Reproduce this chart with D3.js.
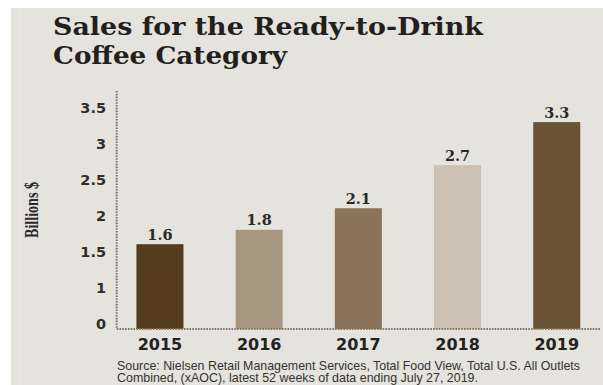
<!DOCTYPE html>
<html>
<head>
<meta charset="utf-8">
<script src="https://cdn.jsdelivr.net/npm/d3@7"></script>
<style>
  html, body { margin: 0; padding: 0; background: #ffffff; }
  svg { display: block; }
</style>
</head>
<body>
<svg id="chart" width="603" height="385"></svg>
<script>
// Ready-to-drink coffee sales, billions of dollars
const years = ["2015", "2016", "2017", "2018", "2019"];
const sales = [1.6, 1.8, 2.1, 2.7, 3.3];
const barColors = ["#553c1c", "#a79882", "#8a7358", "#cbc0b2", "#6a5335"];
const tickValues = [0, 1, 1.5, 2, 2.5, 3, 3.5];
const tickLabels = ["0", "1", "1.5", "2", "2.5", "3", "3.5"];
const titleLines = ["Sales for the Ready-to-Drink", "Coffee Category"];
const sourceLines = [
  "Source: Nielsen Retail Management Services, Total Food View, Total U.S. All Outlets",
  "Combined, (xAOC), latest 52 weeks of data ending July 27, 2019."
];

const svg = d3.select("#chart");
const W = 603, H = 385;

// Panel background
svg.append("rect").attr("x", 11).attr("y", 8).attr("width", W - 11).attr("height", H - 8)
  .attr("fill", "#e5e3de");
svg.append("line").attr("x1", 16.5).attr("x2", 16.5).attr("y1", 8).attr("y2", H)
  .attr("stroke", "#ebdcd6").attr("stroke-width", 1);

// Title
const titleSizes = [430, 234];
svg.append("g").selectAll("text").data(titleLines).join("text")
  .attr("x", 53).attr("y", (d, i) => 35 + i * 28.5)
  .attr("font-family", "DejaVu Serif").attr("font-weight", "bold")
  .attr("font-size", 24).attr("fill", "#231f1c")
  .attr("textLength", (d, i) => titleSizes[i]).attr("lengthAdjust", "spacingAndGlyphs")
  .text(d => d);

// Scales: broken value axis, zero sits just under the 1.0 mark
const axisX = 116.7, axisRight = 600, baseY = 329;
const x = d3.scaleBand().domain(years).range([axisX, axisRight])
  .paddingInner(0.526).paddingOuter(0.199);
const y = d3.scaleLinear().domain([0, 1, 3.5]).range([323.3, 287.3, 107.7]);

// Bars
svg.append("g").selectAll("rect").data(sales).join("rect")
  .attr("x", (d, i) => x(years[i]))
  .attr("width", x.bandwidth())
  .attr("y", d => y(d))
  .attr("height", d => baseY - y(d))
  .attr("fill", (d, i) => barColors[i]);

// Value labels
svg.append("g").selectAll("text").data(sales).join("text")
  .attr("x", (d, i) => x(years[i]) + x.bandwidth() / 2)
  .attr("y", d => y(d) - 4.5)
  .attr("text-anchor", "middle")
  .attr("font-family", "DejaVu Serif").attr("font-weight", "bold")
  .attr("font-size", 14.5).attr("fill", "#2b2a28")
  .text(d => d.toFixed(1));

// Dotted axis lines
const dotted = { stroke: "#86765f", width: 2, dash: "1.6,1.2" };
svg.append("line").attr("x1", axisX).attr("x2", axisX).attr("y1", 91).attr("y2", baseY)
  .attr("stroke", dotted.stroke).attr("stroke-width", dotted.width)
  .attr("stroke-dasharray", dotted.dash);
svg.append("line").attr("x1", axisX).attr("x2", axisRight).attr("y1", baseY).attr("y2", baseY)
  .attr("stroke", dotted.stroke).attr("stroke-width", dotted.width)
  .attr("stroke-dasharray", dotted.dash);

// Y tick labels
const yAxis = d3.axisLeft(y).tickValues(tickValues).tickSize(0).tickPadding(0)
  .tickFormat((d, i) => tickLabels[i]);
const gy = svg.append("g").attr("transform", "translate(106,0)").call(yAxis);
gy.select(".domain").remove();
gy.selectAll("text")
  .attr("font-family", "DejaVu Sans").attr("font-weight", "bold")
  .attr("font-size", 14.5).attr("fill", "#2e2d2b").attr("dy", "0.36em");

// X category labels
const xAxis = d3.axisBottom(x).tickSize(0).tickPadding(0);
const gx = svg.append("g").attr("transform", "translate(0,350)").call(xAxis);
gx.select(".domain").remove();
gx.selectAll("text")
  .attr("font-family", "DejaVu Sans").attr("font-weight", "bold")
  .attr("font-size", 16).attr("fill", "#232220").attr("dy", 0);

// Y axis title
svg.append("text")
  .attr("transform", "translate(38,210) rotate(-90)")
  .attr("text-anchor", "middle")
  .attr("font-family", "Liberation Serif").attr("font-weight", "bold")
  .attr("font-size", 18).attr("fill", "#2a2927")
  .attr("textLength", 56).attr("lengthAdjust", "spacingAndGlyphs")
  .text("Billions $");

// Source note
const sourceWidths = [463, 361];
svg.append("g").selectAll("text").data(sourceLines).join("text")
  .attr("x", 117).attr("y", (d, i) => 369.5 + i * 12.6)
  .attr("font-family", "Liberation Sans")
  .attr("font-size", 12.2).attr("fill", "#333230")
  .attr("textLength", (d, i) => sourceWidths[i]).attr("lengthAdjust", "spacingAndGlyphs")
  .text(d => d);
</script>
</body>
</html>
